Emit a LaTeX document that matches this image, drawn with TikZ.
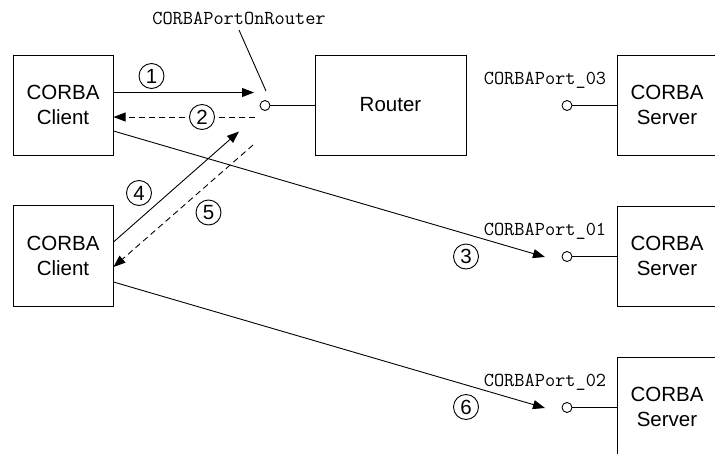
\documentclass[tikz,border=0pt]{standalone}
\usepackage{fontspec}
\setmainfont{Liberation Sans}
\usetikzlibrary{arrows.meta}
\begin{document}
\begin{tikzpicture}[x=1pt,y=-1pt,
  box/.style={draw,line width=1pt,minimum width=100pt,minimum height=100pt,inner sep=0pt,align=center,font=\fontsize{20.5}{25}\selectfont},
  port/.style={draw,circle,fill=white,line width=0.9pt,minimum size=10pt,inner sep=0pt},
  plabel/.style={font=\ttfamily\fontsize{19.8}{22}\selectfont,inner sep=0pt},
  num/.style={draw,circle,fill=white,line width=0.9pt,minimum size=25pt,inner sep=0pt,font=\fontsize{20.5}{24}\selectfont},
  conn/.style={line width=0.9pt},
  arr/.style={line width=0.9pt,-{Triangle[length=12pt,width=9pt]}},
  darr/.style={arr,dash pattern=on 6pt off 4pt}]
\useasboundingbox (0,0) rectangle (715,453);
\clip (0,0) rectangle (715,453);
% boxes
\node[box] (c1) at (63,105) {CORBA\\Client};
\node[box,minimum height=101pt] (c2) at (63,255.5) {CORBA\\Client};
\node[box,minimum width=151pt] (r) at (390.5,105) {Router};
\node[box] (s3) at (667,105) {CORBA\\Server};
\node[box] (s1) at (667,256) {CORBA\\Server};
\node[box] (s2) at (667,407) {CORBA\\Server};
% ports
\node[port] (pr) at (265,105.5) {};
\node[port] (p3) at (567,105.5) {};
\node[port] (p1) at (567,256.5) {};
\node[port] (p2) at (567,407.5) {};
\draw[conn] (pr) -- (r.west |- pr);
\draw[conn] (p3) -- (s3.west |- p3);
\draw[conn] (p1) -- (s1.west |- p1);
\draw[conn] (p2) -- (s2.west |- p2);
% port labels
\node[plabel] (lr) at (239,18) {CORBAPortOnRouter};
\node[plabel] (l3) at (545,80) {CORBAPort\_03};
\node[plabel] (l1) at (545,231) {CORBAPort\_01};
\node[plabel] (l2) at (545,382) {CORBAPort\_02};
\coordinate (lrs) at (239,30);
\coordinate (lre) at (266,91);
\draw[conn] (lrs) -- (lre);
% arrow end points
\coordinate (a1e) at (254,92.5);
\coordinate (a2s) at (255,117);
\coordinate (a4e) at (239,131.5);
\coordinate (a5s) at (253,145);
\coordinate (a3e) at (545,257);
\coordinate (a6e) at (545,408);
% arrows
\draw[arr] (c1.east |- 0,92.5) -- (a1e);
\draw[darr] (a2s) -- (c1.east |- a2s);
\draw[arr] (c1.east |- 0,131) -- (a3e);
\draw[arr] (c2.east |- 0,242) -- (a4e);
\draw[darr] (a5s) -- (c2.east |- 0,267);
\draw[arr] (c2.east |- 0,282) -- (a6e);
% numbers
\node[num] (n1) at (151.5,76) {1};
\node[num] (n2) at (202,117) {2};
\node[num] (n3) at (466,256.5) {3};
\node[num] (n4) at (139,193) {4};
\node[num] (n5) at (208.5,212.5) {5};
\node[num] (n6) at (466,407) {6};
\end{tikzpicture}
\end{document}
